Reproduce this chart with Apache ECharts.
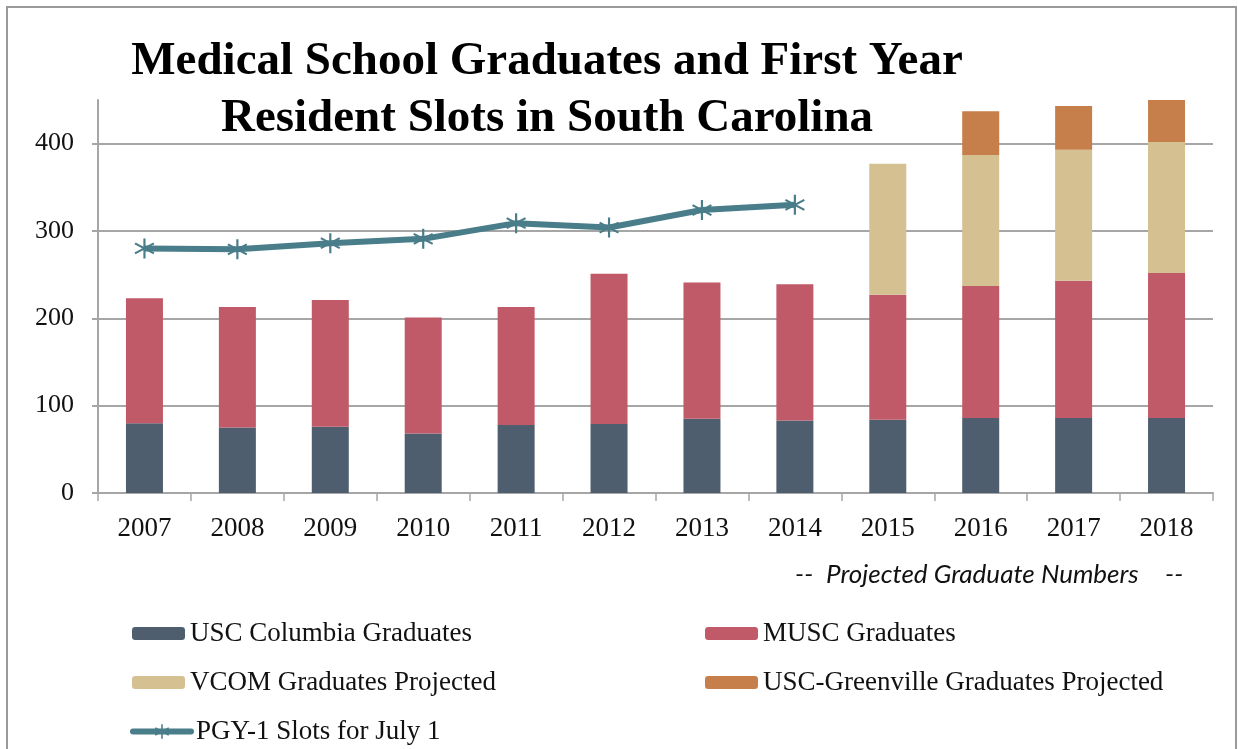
<!DOCTYPE html>
<html>
<head>
<meta charset="utf-8">
<script src="https://cdn.jsdelivr.net/npm/echarts@6/dist/echarts.min.js"></script>
<style>
  html, body { margin: 0; padding: 0; background: #fff; }
  #chart { width: 1238px; height: 749px; }
</style>
</head>
<body>
<div id="chart"></div>
<script>
// 数据
const years = ['2007', '2008', '2009', '2010', '2011', '2012', '2013', '2014', '2015', '2016', '2017', '2018'];
const uscColumbia = [80, 75, 76, 68, 78, 79, 85, 83, 84, 86, 86, 86];
const musc = [143, 138, 145, 133, 135, 172, 156, 156, 143, 151, 157, 166];
const vcom = [null, null, null, null, null, null, null, null, 150, 150, 150, 150];
const greenville = [null, null, null, null, null, null, null, null, null, 50, 50, 50];
const pgy1 = [280, 279, 286, 291, 309, 304, 324, 330, null, null, null, null];

const serif = '"Liberation Serif", "DejaVu Serif", serif';
const gray = '#a6a6a6';
const lineColor = '#4a7d8a';
// 星号标记（竖线 + 两条斜线）
const asterisk = 'path://M-1,-10L1,-10L1,10L-1,10Z' +
  'M-9.16,-4.13L-8.16,-5.87L9.16,4.13L8.16,5.87Z' +
  'M-8.16,5.87L-9.16,4.13L8.16,-5.87L9.16,-4.13Z';

const chart = echarts.init(document.getElementById('chart'));

// 图例：每项单独放置
function legendItem(name, left, top, extra) {
  return Object.assign({
    left: left,
    top: top,
    itemWidth: 53,
    itemHeight: 13,
    data: [name],
    textStyle: { fontFamily: serif, fontSize: 27, color: '#111' }
  }, extra || {});
}

const option = {
  animation: false,
  backgroundColor: '#fff',
  title: {
    text: 'Medical School Graduates and First Year\nResident Slots in South Carolina',
    left: 542,
    top: 28,
    textAlign: 'center',
    textStyle: {
      fontFamily: serif,
      fontWeight: 'bold',
      fontSize: 47,
      lineHeight: 57,
      color: '#000'
    }
  },
  legend: [
    legendItem('USC Columbia Graduates', 127, 615),
    legendItem('VCOM Graduates Projected', 127, 664),
    legendItem('PGY-1 Slots for July 1', 125, 713, {
      itemWidth: 58,
      itemHeight: 18,
      lineStyle: { width: 6, cap: 'round' }
    }),
    legendItem('MUSC Graduates', 700, 615),
    legendItem('USC-Greenville Graduates Projected', 700, 664)
  ],
  grid: {
    left: 98,
    right: 25,
    top: 100,
    bottom: 256,
    containLabel: false
  },
  xAxis: {
    type: 'category',
    data: years,
    axisLine: { lineStyle: { color: gray, width: 2 } },
    axisTick: { show: true, length: 8, lineStyle: { color: gray, width: 1.5 } },
    axisLabel: { margin: 22, fontFamily: serif, fontSize: 27, color: '#111' }
  },
  yAxis: {
    type: 'value',
    min: 0,
    max: 450,
    interval: 100,
    axisLine: { show: true, lineStyle: { color: gray, width: 2 } },
    axisTick: { show: true, length: 6, lineStyle: { color: gray, width: 2 } },
    axisLabel: { margin: 24, showMaxLabel: false, fontFamily: serif, fontSize: 26, color: '#111' },
    splitLine: { show: true, showMaxLine: false, lineStyle: { color: gray, width: 2 } }
  },
  graphic: [
    {
      type: 'rect',
      shape: { x: 7, y: 7, width: 1229, height: 760 },
      style: { fill: 'none', stroke: '#9a9a9a', lineWidth: 2 },
      silent: true
    },
    {
      type: 'text',
      left: 795,
      top: 562,
      style: { text: '--', fontFamily: 'Lato, sans-serif', fontStyle: 'italic', fontSize: 26, fill: '#111' }
    },
    {
      type: 'text',
      left: 826,
      top: 562,
      style: { text: 'Projected Graduate Numbers', fontFamily: 'Lato, sans-serif', fontStyle: 'italic', fontSize: 26, fill: '#111' }
    },
    {
      type: 'text',
      left: 1165,
      top: 562,
      style: { text: '--', fontFamily: 'Lato, sans-serif', fontStyle: 'italic', fontSize: 26, fill: '#111' }
    }
  ],
  series: [
    {
      name: 'USC Columbia Graduates',
      type: 'bar',
      stack: 'grads',
      barWidth: 37,
      data: uscColumbia,
      itemStyle: { color: '#4f5e6e' }
    },
    {
      name: 'MUSC Graduates',
      type: 'bar',
      stack: 'grads',
      data: musc,
      itemStyle: { color: '#c05a69' }
    },
    {
      name: 'VCOM Graduates Projected',
      type: 'bar',
      stack: 'grads',
      data: vcom,
      itemStyle: { color: '#d4c090' }
    },
    {
      name: 'USC-Greenville Graduates Projected',
      type: 'bar',
      stack: 'grads',
      data: greenville,
      itemStyle: { color: '#c67f4b' }
    },
    {
      name: 'PGY-1 Slots for July 1',
      type: 'line',
      data: pgy1,
      symbol: asterisk,
      symbolSize: 20,
      showAllSymbol: true,
      lineStyle: { color: lineColor, width: 6 },
      itemStyle: { color: lineColor },
      z: 5
    }
  ]
};

chart.setOption(option);
</script>
</body>
</html>
